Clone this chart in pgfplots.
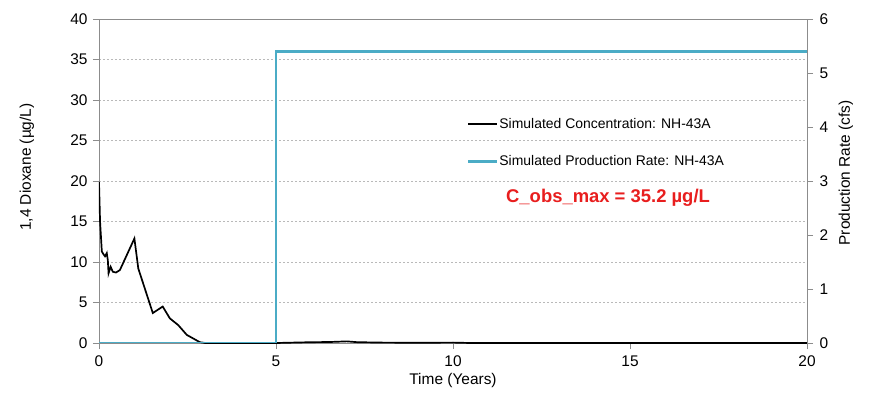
\documentclass[border=0pt]{standalone}
\usepackage{fontspec}
\setmainfont{Liberation Sans}
\usepackage{pgfplots}
\pgfplotsset{compat=1.18}
\definecolor{prodblue}{RGB}{75,172,198}
\definecolor{axgray}{RGB}{140,140,140}
\definecolor{gridgray}{RGB}{185,185,185}
\definecolor{obsred}{RGB}{232,30,30}

\pgfplotstableread{
t c
0 19.9
0.03 15.0
0.08 11.3
0.12 11.0
0.17 10.7
0.22 11.1
0.25 10.2
0.27 8.6
0.33 9.4
0.39 8.8
0.48 8.7
0.59 9.0
1.0 12.9
1.11 9.2
1.52 3.7
1.8 4.5
2.0 3.05
2.24 2.2
2.48 1.0
2.85 0.1
3.0 0
5.0 0
5.5 0.05
6.0 0.1
6.5 0.12
7.0 0.2
7.3 0.1
8.0 0.05
9.0 0.03
10.0 0.05
10.5 0
20 0
}\conc

\pgfplotstableread{
t q
0 0
5 0
5 5.4
20 5.4
}\prod

\begin{document}
\begin{tikzpicture}
\pgfplotsset{
  base/.style={
    width=708bp, height=324bp, scale only axis,
    xmin=0, xmax=20,
    font=\fontsize{14}{16}\selectfont,
    tick label style={font=\fontsize{15.5}{17}\selectfont},
    label style={font=\fontsize{15.5}{17}\selectfont},
    /pgf/number format/assume math mode=true,
    tick style={axgray, line width=0.8pt},
    axis line style={axgray, line width=1pt},
    major tick length=6bp,
    tick align=outside,
  }
}
\begin{axis}[base,
  ymin=0, ymax=40, ytick={0,5,...,40},
  xtick={0,5,10,15,20},
  ytick pos=left, xtick pos=bottom,
  yticklabel style={xshift=-2bp},
  xticklabel style={yshift=-3bp},
  ymajorgrids, grid style={gridgray, dash pattern=on 2bp off 2bp, line width=0.8pt},
  ylabel={1,4 Dioxane (µg/L)},
  xlabel={Time (Years)},
  ylabel style={at={(axis description cs:-0.102,0.543)}, anchor=center, rotate=0},
  xlabel style={at={(axis description cs:0.5,-0.117)}, anchor=center},
  legend cell align=left,
  legend image code/.code={\draw[#1] (0bp,0bp) -- (29bp,0bp);},
  legend style={draw=none, fill=none, at={(axis description cs:0.515,0.704)}, anchor=north west,
    font=\fontsize{14}{16}\selectfont, row sep=24bp, nodes={inner sep=1bp}},
]
\addplot[black, line width=1.7pt] table[x=t, y=c] {\conc};
\addlegendentry{Simulated Concentration: NH-43A}
\addlegendimage{prodblue, line width=2.6pt}
\addlegendentry{Simulated Production Rate: NH-43A}
\node[text=obsred, font=\fontsize{18.5}{20}\selectfont\bfseries, anchor=center] at (axis description cs:0.719,0.4475) {C\_obs\_max = 35.2 µg/L};
\coordinate (sw) at (rel axis cs:0,0);
\coordinate (ne) at (rel axis cs:1,1);
\end{axis}
\begin{axis}[base,
  ymin=0, ymax=6, ytick={0,1,...,6},
  axis y line*=right, axis x line=none,
  yticklabel style={xshift=3bp},
  ylabel={Production Rate (cfs)},
  ylabel style={at={(axis description cs:1.055,0.525)}, anchor=center, rotate=0},
]
\addplot[prodblue, line width=2.6pt] table[x=t, y=q] {\prod};
\end{axis}
\pgfresetboundingbox
\path ([shift={(-99bp,-53bp)}]sw) rectangle ([shift={(62bp,19bp)}]ne);
\end{tikzpicture}
\end{document}
